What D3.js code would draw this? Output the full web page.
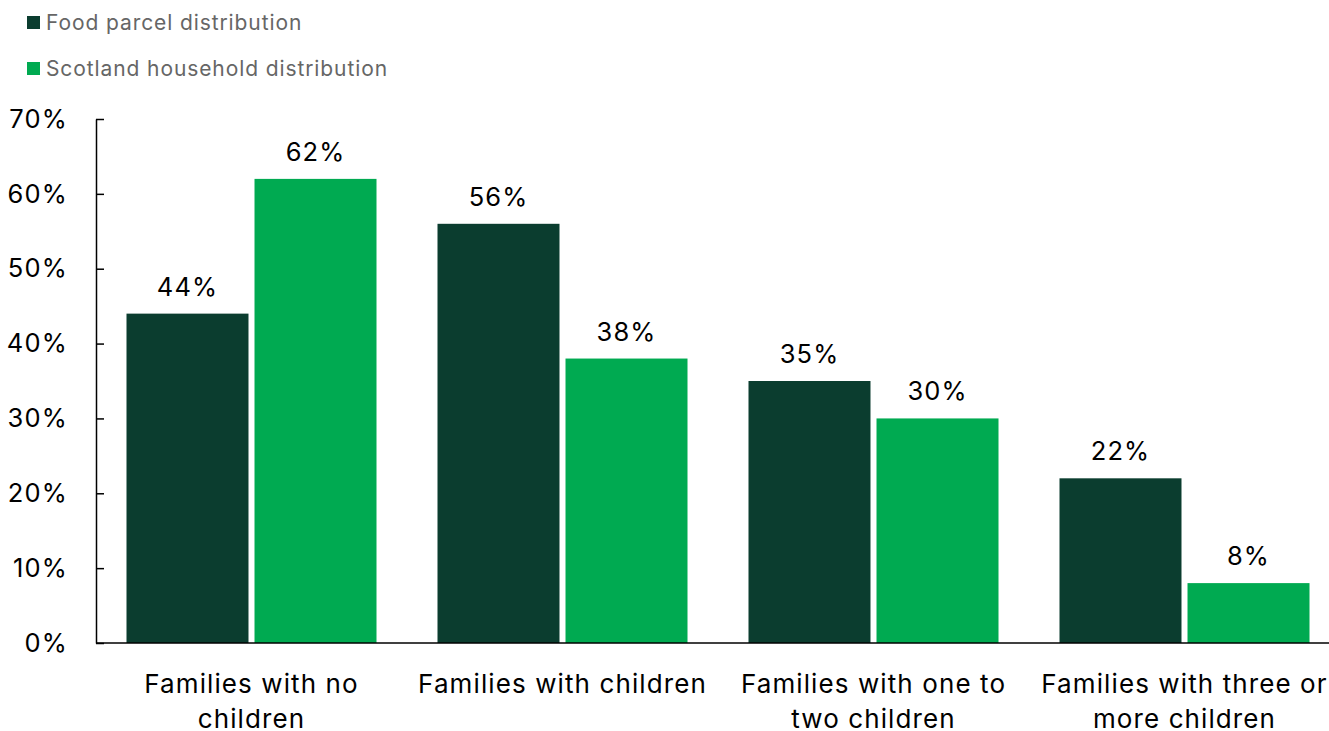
<!DOCTYPE html>
<html><head><meta charset="utf-8">
<script src="https://cdn.jsdelivr.net/npm/d3@7"></script>
<style>body{margin:0;background:#fff}svg{display:block}</style>
</head><body>
<script>
const categories = [["Families with no","children"],["Families with children"],["Families with one to","two children"],["Families with three or","more children"]];
const seriesNames = ["Food parcel distribution","Scotland household distribution"];
const foodParcel = [44,56,35,22];
const scotland = [62,38,30,8];
const yTicks = [0,10,20,30,40,50,60,70];
const colors = ["#0b3d2f","#00aa51"];

const W=1329,H=731;
const svg=d3.select("body").append("svg").attr("width",W).attr("height",H);
const font="Inter, 'Liberation Sans', sans-serif";
const x0=d3.scaleBand().domain(d3.range(categories.length)).range([96,1340]).paddingInner(0).paddingOuter(0);
const x1=d3.scaleBand().domain([0,1]).range([30.5,280.5]).paddingInner(0.047);
const y=d3.scaleLinear().domain([0,70]).range([643,119]);

// legend
seriesNames.forEach((n,i)=>{
  const g=svg.append("g").attr("transform",`translate(27,${16+i*46})`);
  g.append("rect").attr("width",13).attr("height",13).attr("fill",colors[i]);
  g.append("text").attr("x",19).attr("y",14).attr("font-family",font).attr("font-size",21).attr("letter-spacing",0.9).attr("fill","#666").text(n);
});

// y axis
const yAxis=d3.axisLeft(y).tickValues(yTicks).tickFormat(d=>d+"%").tickSizeInner(-8).tickSizeOuter(0);
const ga=svg.append("g").attr("transform","translate(96,0)").call(yAxis);
ga.select(".domain").attr("stroke","#000").attr("stroke-width",1.5);
ga.selectAll(".tick line").attr("stroke","#000").attr("stroke-width",1.5);
ga.selectAll(".tick text").attr("x",-28).attr("font-family",font).attr("font-size",25.5).attr("letter-spacing",1.2).attr("fill","#000");

const data=[foodParcel,scotland];
categories.forEach((c,i)=>{
  const g=svg.append("g").attr("transform",`translate(${x0(i)},0)`);
  data.forEach((s,j)=>{
    g.append("rect").attr("x",x1(j)).attr("width",x1.bandwidth()).attr("y",y(s[i])).attr("height",y(0)-y(s[i])).attr("fill",colors[j]);
    g.append("text").attr("x",x1(j)+x1.bandwidth()/2).attr("y",y(s[i])-18).attr("text-anchor","middle").attr("font-family",font).attr("font-size",25.5).attr("letter-spacing",1.1).attr("fill","#000").text(s[i]+"%");
  });
  c.forEach((line,k)=>{
    g.append("text").attr("x",x0.bandwidth()/2).attr("y",693+k*34.5).attr("text-anchor","middle").attr("font-family",font).attr("font-size",26).attr("letter-spacing",1.1).attr("fill","#000").text(line);
  });
});

// x axis line
svg.append("line").attr("x1",96).attr("x2",1329).attr("y1",y(0)).attr("y2",y(0)).attr("stroke","#000").attr("stroke-width",1.5);
</script>
</body></html>
